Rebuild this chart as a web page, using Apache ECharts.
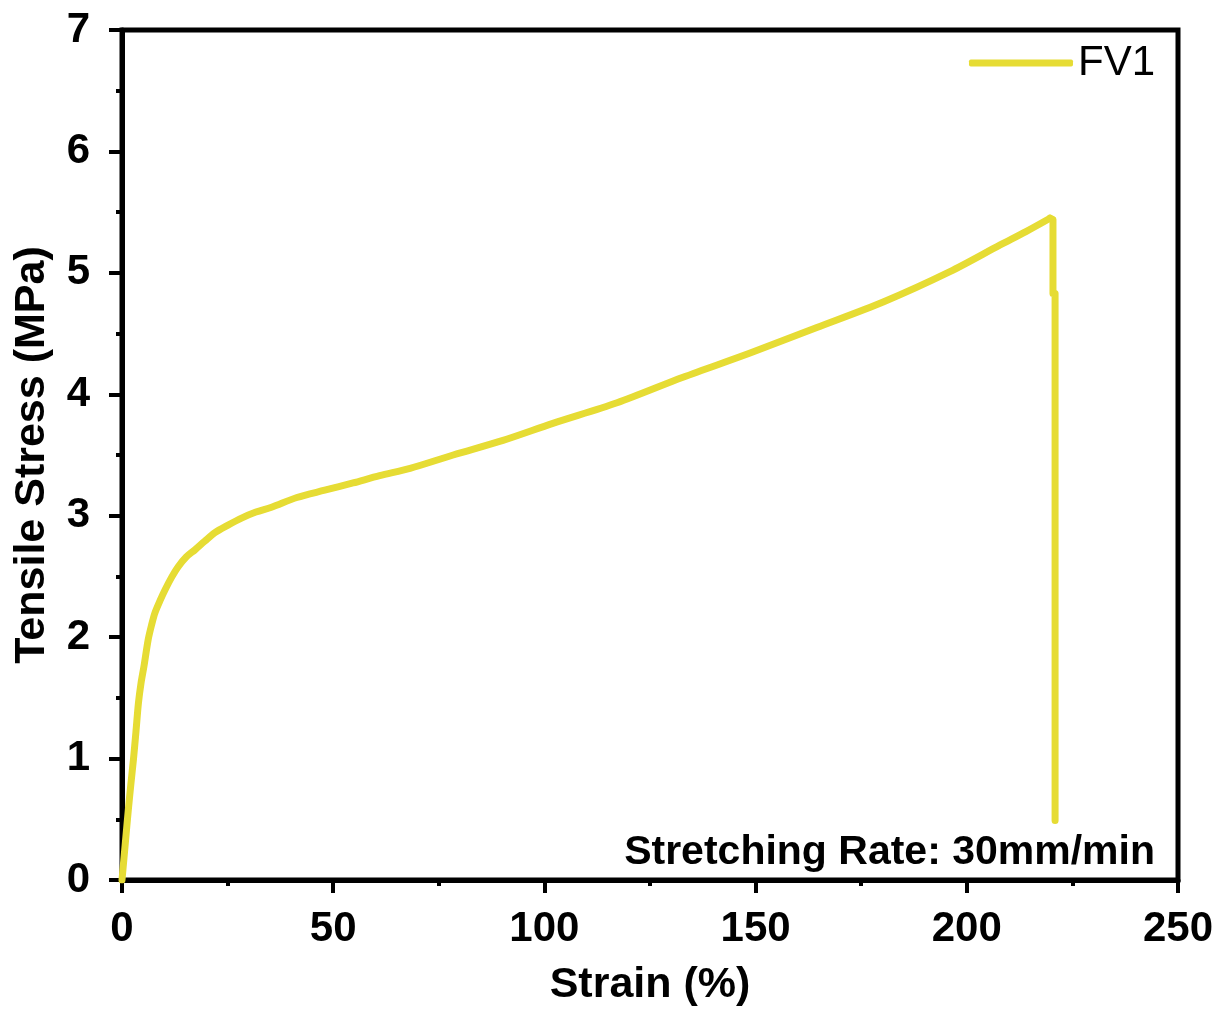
<!DOCTYPE html>
<html>
<head>
<meta charset="utf-8">
<script src="https://cdn.jsdelivr.net/npm/echarts@6/dist/echarts.min.js"></script>
<style>html,body{margin:0;padding:0;background:#fff;}#c{width:1227px;height:1012px;}</style>
</head>
<body>
<div id="c"></div>
<script>
const seriesName = 'FV1';
// loading branch (up to the break point)
const strain = [0, 0.8, 1.5, 2.1, 2.7, 3.3, 3.9, 4.5, 5.2, 6.2, 7.0, 7.8, 9.0, 10.2, 11.7, 13.3, 15.2, 17.3, 19.6, 22.0, 25.0, 28.3, 31.7, 35.4, 41.4, 48.0, 54.7, 61.0, 68.2, 78.4, 90.2, 102.0, 117.2, 132.8, 148.7, 164.5, 180.2, 196.0, 207.9, 214.0, 219.7];
const stress = [0, 0.31, 0.58, 0.79, 0.99, 1.22, 1.46, 1.62, 1.76, 1.98, 2.10, 2.20, 2.30, 2.39, 2.49, 2.58, 2.66, 2.72, 2.79, 2.86, 2.92, 2.98, 3.03, 3.07, 3.15, 3.21, 3.27, 3.33, 3.39, 3.50, 3.62, 3.76, 3.93, 4.14, 4.34, 4.55, 4.76, 5.01, 5.23, 5.34, 5.45];
// fracture drop
const breakStrain = [219.7, 220.4, 220.4, 220.9, 220.9];
const breakStress = [5.45, 5.44, 4.83, 4.83, 0.49];
const xTicks = [0, 50, 100, 150, 200, 250];
const yTicks = [0, 1, 2, 3, 4, 5, 6, 7];
const annotation = 'Stretching Rate: 30mm/min';

const FONT = '"Liberation Sans", Arial, sans-serif';
const lineColor = '#e6dc34';
const chart = echarts.init(document.getElementById('c'), null, {renderer: 'canvas'});
const axisCommon = {
  axisLine: {show: true, lineStyle: {color: '#000', width: 5}},
  axisTick: {show: true, inside: false, length: 13, lineStyle: {color: '#000', width: 4}},
  minorTick: {show: true, splitNumber: 2, length: 6, lineStyle: {color: '#000', width: 4}},
  splitLine: {show: false},
  axisLabel: {color: '#000', fontFamily: FONT, fontWeight: 'bold', fontSize: 42},
  nameTextStyle: {color: '#000', fontFamily: FONT, fontWeight: 'bold', fontSize: 43}
};
const lineStyle = {color: lineColor, width: 7, cap: 'round', join: 'round'};
chart.setOption({
  animation: false,
  backgroundColor: '#fff',
  grid: {left: 122, right: 49, top: 30, bottom: 132, show: true, borderColor: '#000', borderWidth: 5, backgroundColor: 'transparent', containLabel: false, outerBoundsMode: 'none'},
  legend: {
    data: [{name: seriesName, icon: 'roundRect'}], right: 67, top: 37, itemWidth: 104, itemHeight: 7, itemGap: 10,
    itemStyle: {color: lineColor, borderWidth: 0},
    textStyle: {fontFamily: FONT, fontSize: 42, color: '#000'}
  },
  xAxis: Object.assign({}, axisCommon, {
    type: 'value', min: xTicks[0], max: xTicks[xTicks.length - 1], interval: 50,
    name: 'Strain (%)', nameLocation: 'middle', nameGap: 84,
    axisLabel: Object.assign({}, axisCommon.axisLabel, {margin: 28})
  }),
  yAxis: Object.assign({}, axisCommon, {
    type: 'value', min: yTicks[0], max: yTicks[yTicks.length - 1], interval: 1,
    name: 'Tensile Stress (MPa)', nameLocation: 'middle', nameGap: 68,
    axisLabel: Object.assign({}, axisCommon.axisLabel, {margin: 32})
  }),
  graphic: [{
    type: 'text', right: 72, top: 832,
    style: {text: annotation, fontFamily: FONT, fontWeight: 'bold', fontSize: 41, fill: '#000', textAlign: 'right'}
  }],
  series: [{
    name: seriesName, type: 'line', symbol: 'none', showSymbol: false, smooth: 0.3,
    data: strain.map((s, i) => [s, stress[i]]),
    lineStyle: lineStyle, itemStyle: {color: lineColor}
  }, {
    name: seriesName, type: 'line', symbol: 'none', showSymbol: false, smooth: false,
    data: breakStrain.map((s, i) => [s, breakStress[i]]),
    lineStyle: lineStyle, itemStyle: {color: lineColor}
  }]
});
</script>
</body>
</html>
